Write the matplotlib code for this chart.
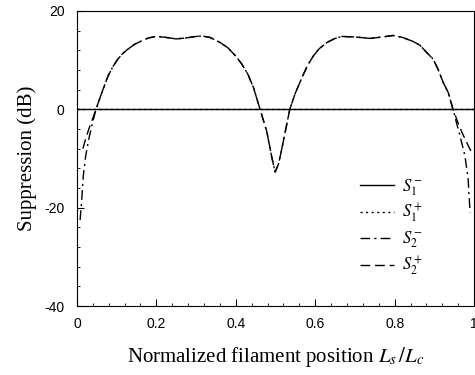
import numpy as np
import matplotlib
matplotlib.use("Agg")
import matplotlib.pyplot as plt
from matplotlib.ticker import MultipleLocator, FixedLocator

# values
s1m_x = [0.0, 1.0]
s1m_y = [0.0, 0.0]
s1p_x = [0.0, 1.0]
s1p_y = [0.0, 0.0]

mid_x = [0.048, 0.06, 0.078, 0.09, 0.103, 0.115, 0.128, 0.145, 0.163, 0.18,
         0.2, 0.225, 0.25, 0.275, 0.3, 0.315, 0.335, 0.36, 0.38, 0.40,
         0.415, 0.43, 0.445, 0.461, 0.478, 0.49, 0.499, 0.508, 0.516, 0.526,
         0.536, 0.55, 0.567, 0.58, 0.595, 0.61, 0.63, 0.65, 0.667, 0.7,
         0.738, 0.77, 0.796, 0.82, 0.846, 0.864, 0.88, 0.897, 0.91, 0.922,
         0.935, 0.947]
mid_y = [0.0, 2.8, 6.7, 8.6, 10.2, 11.3, 12.2, 13.2, 13.9, 14.5,
         14.8, 14.6, 14.3, 14.5, 14.8, 14.9, 14.6, 13.6, 12.5, 10.8,
         9.2, 7.2, 4.3, 0.0, -4.5, -9.5, -12.8, -11.0, -8.0, -4.0,
         0.0, 3.3, 6.5, 8.8, 10.8, 12.3, 13.6, 14.4, 14.8, 14.7,
         14.4, 14.7, 15.0, 14.6, 13.8, 13.0, 11.6, 10.2, 8.0, 5.5,
         3.4, 0.0]

s2m_x = [0.008, 0.012, 0.016, 0.022, 0.03, 0.04] + mid_x + [0.955, 0.965, 0.977, 0.985, 0.99]
s2m_y = [-22.5, -18.5, -13.5, -9.5, -6.0, -2.5] + mid_y + [-2.5, -5.5, -9.5, -14.0, -21.0]

s2p_x = [0.015, 0.022, 0.03, 0.04] + mid_x + [0.958, 0.97, 0.983, 0.995]
s2p_y = [-8.0, -6.0, -4.0, -1.8] + mid_y + [-2.4, -4.8, -7.0, -9.0]

plt.rcParams['mathtext.fontset'] = 'stix'
plt.rcParams['axes.unicode_minus'] = False

fig = plt.figure(figsize=(4.75, 3.75), dpi=100)
ax = fig.add_axes([0.162, 0.184, 0.836, 0.787])

ax.plot(s1m_x, s1m_y, color='black', lw=1.0, ls='-', label=r'$S_1^-$')
ax.plot(s1p_x, s1p_y, color='black', lw=1.0, ls=(0, (1.5, 2.5)), label=r'$S_1^+$')
ax.plot(s2m_x, s2m_y, color='black', lw=1.0, ls=(0, (7, 3, 1.5, 3)), label=r'$S_2^-$')
ax.plot(s2p_x, s2p_y, color='black', lw=1.0, ls=(0, (7, 3.5)), label=r'$S_2^+$')

ax.set_xlim(0, 1)
ax.set_ylim(-40, 20)
ax.xaxis.set_major_locator(FixedLocator([0, 0.2, 0.4, 0.6, 0.8, 1.0]))
ax.set_xticklabels(['0', '0.2', '0.4', '0.6', '0.8', '1'])
ax.xaxis.set_minor_locator(MultipleLocator(0.04))
ax.yaxis.set_major_locator(MultipleLocator(20))
ax.yaxis.set_minor_locator(MultipleLocator(4))
ax.tick_params(which='both', direction='in', labelsize=10)
ax.tick_params(which='major', length=5, width=0.8)
ax.tick_params(which='minor', length=2.5, width=0.6)
ax.tick_params(axis='x', pad=8)
ax.tick_params(axis='y', pad=9)
for lab in ax.get_xticklabels() + ax.get_yticklabels():
    lab.set_fontfamily('Liberation Sans')

ax.set_xlabel(r'Normalized filament position $L_s\,/L_c$', family='Liberation Serif',
              fontsize=15, labelpad=10)
ax.set_ylabel('Suppression (dB)', family='Liberation Serif', fontsize=15, labelpad=5)

leg = ax.legend(loc='lower right', bbox_to_anchor=(0.91, 0.045), frameon=False,
                fontsize=12, handlelength=2.0, labelspacing=0.25, handletextpad=0.5)

fig.savefig('out.png', dpi=100)
